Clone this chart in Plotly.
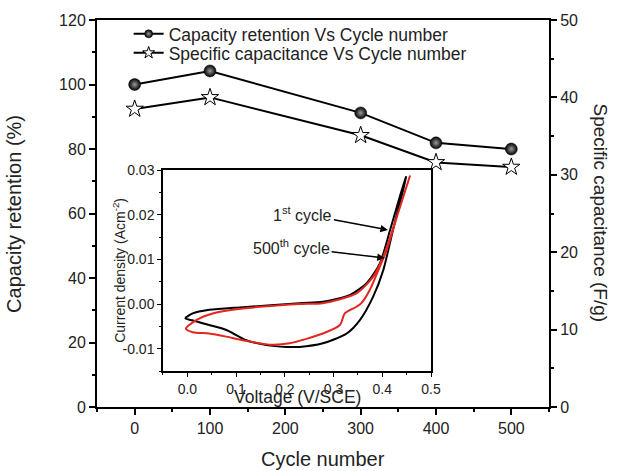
import plotly.graph_objects as go

# ---- main data ----
cycles = [0, 100, 300, 400, 500]
retention = [100, 104.2, 91.2, 81.9, 80.0]
capacitance = [38.5, 40.0, 35.1, 31.6, 31.0]
series_names = ["Capacity retention Vs Cycle number", "Specific capacitance Vs Cycle number"]

# ---- inset CV data (1st cycle, black) ----
v1_up = [-0.004, 0.011, 0.045, 0.114, 0.23, 0.278, 0.333, 0.368, 0.395, 0.416, 0.436, 0.449]
i1_up = [-0.0032, -0.0021, -0.0013, -0.0007, 0.0002, 0.0005, 0.0020, 0.0047, 0.0091, 0.0166, 0.0241, 0.0286]
v1_dn = [0.449, 0.443, 0.422, 0.402, 0.381, 0.354, 0.327, 0.278, 0.23, 0.203, 0.162, 0.121, 0.08, 0.045, 0.011, -0.004]
i1_dn = [0.0286, 0.0256, 0.0166, 0.0076, 0.0016, -0.0036, -0.0066, -0.0088, -0.0096, -0.0096, -0.0092, -0.0081, -0.0058, -0.0047, -0.0037, -0.0032]

# ---- inset CV data (500th cycle, red) ----
v500_up = [-0.003, 0.018, 0.052, 0.114, 0.23, 0.278, 0.347, 0.381, 0.402, 0.43, 0.457]
i500_up = [-0.0055, -0.0036, -0.0021, -0.0010, 0.0000, 0.0002, 0.0024, 0.0061, 0.0106, 0.0196, 0.0288]
v500_dn = [0.457, 0.43, 0.409, 0.395, 0.374, 0.357, 0.347, 0.323, 0.313, 0.278, 0.21, 0.169, 0.114, 0.08, 0.045, 0.011, -0.003]
i500_dn = [0.0288, 0.0196, 0.0121, 0.0084, 0.0031, 0.0002, -0.0006, -0.0021, -0.0047, -0.0066, -0.0088, -0.0091, -0.0081, -0.0073, -0.0066, -0.0063, -0.0055]

x_ticks = [0, 100, 200, 300, 400, 500]
yl_ticks = [0, 20, 40, 60, 80, 100, 120]
yr_ticks = [0, 10, 20, 30, 40, 50]
inset_x_ticks = [0.0, 0.1, 0.2, 0.3, 0.4, 0.5]
inset_x_text = ["0.0", "0.1", "0.2", "0.3", "0.4", "0.5"]
inset_y_ticks = [-0.01, 0.0, 0.01, 0.02, 0.03]
inset_y_text = ["-0.01", "0.00", "0.01", "0.02", "0.03"]

FONT = "Liberation Sans, Arial, sans-serif"
TXT = "#222"
RED = "#e3261f"

sphere = dict(symbol="circle", color="black",
              gradient=dict(type="radial", color="#9a9a9a"),
              line=dict(color="black", width=0.5))
star = dict(symbol="star", color="white", line=dict(color="black", width=1))

fig = go.Figure()

fig.add_trace(go.Scatter(
    x=cycles, y=retention, mode="lines+markers", name=series_names[0], showlegend=False,
    line=dict(color="black", width=2), marker=dict(size=12, **sphere),
    xaxis="x", yaxis="y"))

fig.add_trace(go.Scatter(
    x=cycles, y=capacitance, mode="lines+markers", name=series_names[1], showlegend=False,
    line=dict(color="black", width=2), marker=dict(size=13, **star),
    xaxis="x", yaxis="y2"))

# legend entries (smaller symbols as in the reference legend)
fig.add_trace(go.Scatter(
    x=[None], y=[None], mode="lines+markers", name=series_names[0], legend="legend",
    line=dict(color="black", width=2), marker=dict(size=8, **sphere),
    xaxis="x", yaxis="y"))
fig.add_trace(go.Scatter(
    x=[None], y=[None], mode="lines+markers", name=series_names[1], legend="legend2",
    line=dict(color="black", width=2), marker=dict(size=9, **star),
    xaxis="x", yaxis="y2"))

fig.add_trace(go.Scatter(
    x=v1_up + v1_dn, y=i1_up + i1_dn, mode="lines",
    line=dict(color="black", width=2, shape="spline", smoothing=0.7),
    showlegend=False, xaxis="x3", yaxis="y3"))

fig.add_trace(go.Scatter(
    x=v500_up + v500_dn, y=i500_up + i500_dn, mode="lines",
    line=dict(color=RED, width=2, shape="spline", smoothing=0.7),
    showlegend=False, xaxis="x3", yaxis="y3"))

axis_common = dict(showline=True, linecolor="black", linewidth=2, ticks="outside",
                   tickcolor="black", tickwidth=1.5, showgrid=False, zeroline=False,
                   tickfont=dict(family=FONT, size=16, color=TXT))
inset_common = dict(showline=True, linecolor="black", linewidth=1.5, mirror=True,
                    ticks="outside", tickcolor="black", showgrid=False, zeroline=False,
                    tickfont=dict(family=FONT, size=14, color=TXT))
leg_common = dict(x=0.07, xanchor="left", yanchor="middle", bgcolor="rgba(0,0,0,0)",
                  font=dict(family=FONT, size=17.5, color=TXT), itemwidth=30)

fig.update_layout(
    width=622, height=471,
    margin=dict(l=97, r=73, t=20, b=64),
    paper_bgcolor="white", plot_bgcolor="white",
    font=dict(family=FONT, color=TXT),
    xaxis=dict(domain=[0, 1], range=[-50, 550], tickvals=x_ticks, ticklen=6,
               minor=dict(dtick=50, tick0=0, ticks="outside", ticklen=3, tickcolor="black"),
               mirror=True, anchor="y", **axis_common),
    yaxis=dict(range=[0, 120], tickvals=yl_ticks, ticklen=6,
               minor=dict(dtick=10, tick0=0, ticks="outside", ticklen=3, tickcolor="black"),
               anchor="x", **axis_common),
    yaxis2=dict(range=[0, 50], tickvals=yr_ticks, ticklen=6, side="right", overlaying="y",
                minor=dict(dtick=5, tick0=0, ticks="outside", ticklen=3, tickcolor="black"),
                anchor="x", **axis_common),
    xaxis3=dict(domain=[0.146, 0.739], range=[-0.05, 0.5], anchor="y3",
                tickvals=inset_x_ticks, ticktext=inset_x_text, ticklen=4,
                minor=dict(dtick=0.05, tick0=0, ticks="outside", ticklen=2, tickcolor="black"),
                **inset_common),
    yaxis3=dict(domain=[0.093, 0.612], range=[-0.015, 0.03], anchor="x3",
                tickvals=inset_y_ticks, ticktext=inset_y_text, ticklen=4,
                minor=dict(dtick=0.005, tick0=0, ticks="outside", ticklen=2, tickcolor="black"),
                **inset_common),
    legend=dict(y=0.964, **leg_common),
    legend2=dict(y=0.915, **leg_common),
    showlegend=True,
)

annotations = [
    dict(text="Cycle number", xref="paper", yref="paper", x=0.5, y=-0.135,
         xanchor="center", yanchor="middle", showarrow=False,
         font=dict(family=FONT, size=20, color=TXT)),
    dict(text="Capacity retention (%)", xref="paper", yref="paper", x=-0.185, y=0.5,
         xanchor="center", yanchor="middle", showarrow=False, textangle=-90,
         font=dict(family=FONT, size=20, color=TXT)),
    dict(text="Specific capacitance (F/g)", xref="paper", yref="paper", x=1.115, y=0.5,
         xanchor="center", yanchor="middle", showarrow=False, textangle=90,
         font=dict(family=FONT, size=19, color=TXT)),
    dict(text="Voltage (V/SCE)", xref="x3", yref="paper", x=0.225, y=0.025,
         xanchor="center", yanchor="middle", showarrow=False,
         font=dict(family=FONT, size=17.5, color=TXT)),
    dict(text="Current density (Acm<sup>-2</sup>)", xref="paper", yref="y3", x=0.047, y=0.0075,
         xanchor="center", yanchor="middle", showarrow=False, textangle=-90,
         font=dict(family=FONT, size=14, color=TXT)),
    dict(text="1<sup>st</sup> cycle", xref="x3", yref="y3", x=0.4115, y=0.0166,
         axref="x3", ayref="y3", ax=0.237, ay=0.0202, showarrow=True,
         arrowhead=2, arrowsize=1, arrowwidth=1.5, arrowcolor="black",
         font=dict(family=FONT, size=16, color=TXT)),
    dict(text="500<sup>th</sup> cycle", xref="x3", yref="y3", x=0.405, y=0.0103,
         axref="x3", ayref="y3", ax=0.214, ay=0.0128, showarrow=True,
         arrowhead=2, arrowsize=1, arrowwidth=1.5, arrowcolor="black",
         font=dict(family=FONT, size=16, color=TXT)),
]
fig.update_layout(annotations=annotations)

fig.write_html("out.html")
